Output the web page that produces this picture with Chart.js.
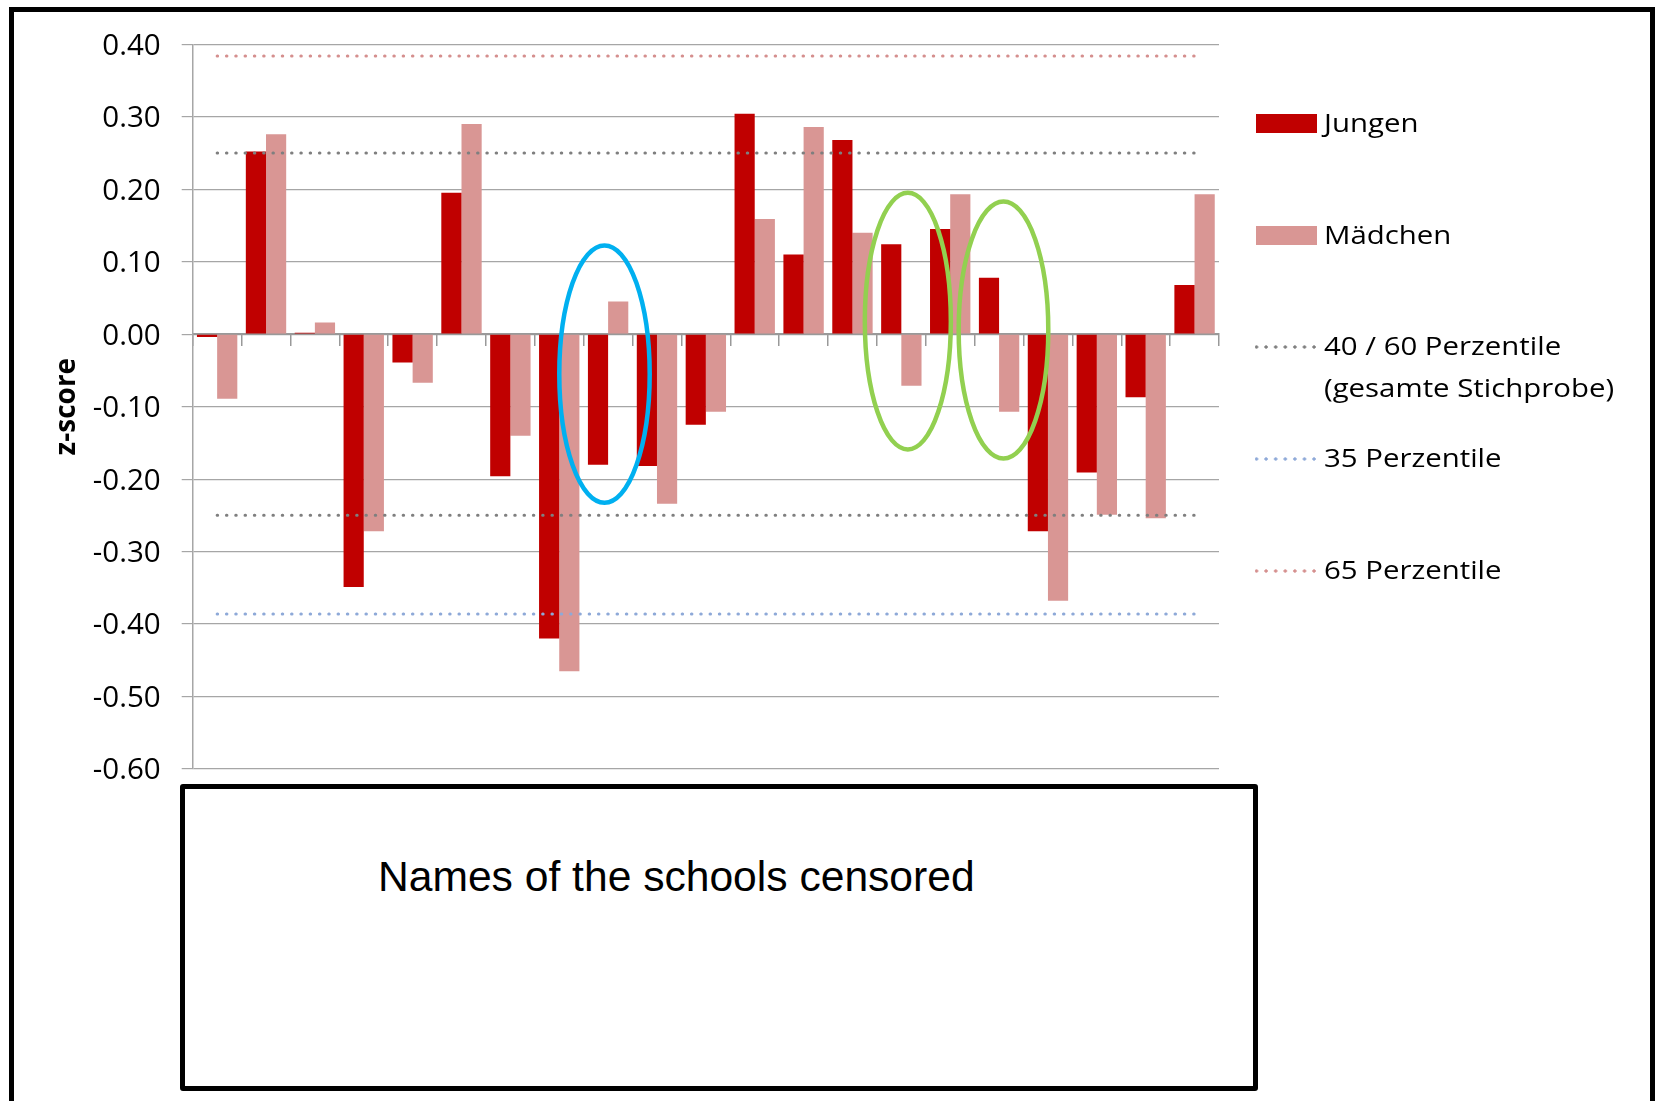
<!DOCTYPE html>
<html lang="de">
<head>
<meta charset="utf-8">
<title>z-score Jungen / Mädchen</title>
<script src="https://cdn.jsdelivr.net/npm/chart.js@4/dist/chart.umd.min.js"></script>
<style>
  html, body { margin: 0; padding: 0; background: #fff; }
  body { width: 1657px; height: 1101px; overflow: hidden; position: relative; }
  #chart { position: absolute; left: 0; top: 0; }
  .frame { position: absolute; box-sizing: border-box; border: 5px solid #000; }
  #outer { left: 9px; top: 7px; width: 1646px; height: 1130px; }
  #namesBox { left: 180px; top: 784px; width: 1078px; height: 307px; border-radius: 3px; background: #fff; }
  #namesText { position: absolute; left: 378px; top: 855px; font: 42.6px/42px "Liberation Sans", Arial, sans-serif; color: #000; white-space: nowrap; }
  .lg-item { position: absolute; left: 1255px; height: 0; }
  .lg-swatch { position: absolute; left: 1px; width: 61px; height: 19px; top: -10px; }
  .lg-line { position: absolute; left: 0; width: 61px; height: 4px; top: -2px; background-repeat: repeat-x; background-size: 9.6px 4px; background-position: -3.3px 0; }
  .lg-text { position: absolute; left: 69px; font: 26px/42px "Open Sans", sans-serif; color: #000; white-space: nowrap; transform: scaleX(1.13); transform-origin: 0 0; }
</style>
</head>
<body>
<canvas id="chart" width="1657" height="1101"></canvas>
<div id="outer" class="frame"></div>
<div id="namesBox" class="frame"></div>
<div id="namesText">Names of the schools censored</div>
<div id="legend"></div>
<script>
// ---------- data ----------
const categories = ['Schule 1','Schule 2','Schule 3','Schule 4','Schule 5','Schule 6','Schule 7',
  'Schule 8','Schule 9','Schule 10','Schule 11','Schule 12','Schule 13','Schule 14',
  'Schule 15','Schule 16','Schule 17','Schule 18','Schule 19','Schule 20','Schule 21'];
const jungen   = [-0.004, 0.252, 0.002, -0.349, -0.039, 0.195, -0.196, -0.420, -0.180, -0.182, -0.125,
                   0.304, 0.110, 0.268, 0.124, 0.145, 0.078, -0.272, -0.191, -0.087, 0.068];
const maedchen = [-0.089, 0.276, 0.016, -0.272, -0.067, 0.290, -0.140, -0.465, 0.045, -0.234, -0.107,
                   0.159, 0.286, 0.140, -0.071, 0.193, -0.107, -0.368, -0.249, -0.254, 0.193];
const perz60 = 0.25;
const perz40 = -0.25;
const perz35 = -0.386;
const perz65 = 0.384;
const yTickValues = [0.40, 0.30, 0.20, 0.10, 0.00, -0.10, -0.20, -0.30, -0.40, -0.50, -0.60];
const seriesNames = ['Jungen', 'Mädchen', ['40 / 60 Perzentile', '(gesamte Stichprobe)'], '35 Perzentile', '65 Perzentile'];
const yTitle = 'z-score';
// highlighted schools (category index, value range of the ellipse)
const highlights = [
  { cat: 8,  shift: -0.074, top: 0.1225, bottom: -0.2327, half: 0.925, color: '#00B0F0' },
  { cat: 14, shift: 0.133,  top: 0.195,  bottom: -0.159,  half: 0.88,  color: '#92D050' },
  { cat: 16, shift: 0.09,   top: 0.183,  bottom: -0.1716, half: 0.917, color: '#92D050' }
];

// ---------- styles ----------
const RED = '#C00000', PINK = '#D99694', GREY_DOT = '#7F7F7F', BLUE_DOT = '#8EA9D8', PINK_DOT = '#D58F8E';
const first = categories[0], last = categories[categories.length - 1];
const lineStyle = (color) => ({
  type: 'line', borderColor: color, backgroundColor: color, borderWidth: 3,
  borderDash: [0.5, 8.8], borderCapStyle: 'round', pointRadius: 0, fill: false, order: 0
});

const ellipsePlugin = {
  id: 'ellipses',
  afterDatasetsDraw(chart) {
    const { ctx, scales: { x, y } } = chart;
    const catW = x.getPixelForValue(1) - x.getPixelForValue(0);
    ctx.save();
    highlights.forEach(h => {
      const cx = x.getPixelForValue(h.cat) + h.shift * catW;
      const yt = y.getPixelForValue(h.top), yb = y.getPixelForValue(h.bottom);
      ctx.beginPath();
      ctx.ellipse(cx, (yt + yb) / 2, h.half * catW, (yb - yt) / 2, 0, 0, Math.PI * 2);
      ctx.lineWidth = 4.5;
      ctx.strokeStyle = h.color;
      ctx.stroke();
    });
    ctx.restore();
  }
};

const chart = new Chart(document.getElementById('chart'), {
  type: 'bar',
  data: {
    labels: categories,
    datasets: [
      { label: seriesNames[0], data: jungen, backgroundColor: RED, order: 1, legend: true },
      { label: seriesNames[1], data: maedchen, backgroundColor: PINK, order: 1, legend: true },
      Object.assign(lineStyle(GREY_DOT), { label: seriesNames[2], data: [{ x: first, y: perz60 }, { x: last, y: perz60 }], legend: true }),
      Object.assign(lineStyle(GREY_DOT), { label: seriesNames[2], data: [{ x: first, y: perz40 }, { x: last, y: perz40 }], legend: false }),
      Object.assign(lineStyle(BLUE_DOT), { label: seriesNames[3], data: [{ x: first, y: perz35 }, { x: last, y: perz35 }], legend: true }),
      Object.assign(lineStyle(PINK_DOT), { label: seriesNames[4], data: [{ x: first, y: perz65 }, { x: last, y: perz65 }], legend: true })
    ]
  },
  options: {
    responsive: false,
    animation: false,
    datasets: { bar: { categoryPercentage: 0.826, barPercentage: 1.0 } },
    layout: { padding: { top: 44.3, right: 438, bottom: 332, left: 0 } },
    plugins: { legend: { display: false }, tooltip: { enabled: false }, title: { display: false } },
    scales: {
      x: {
        position: { y: 0 },
        offset: true,
        grid: { offset: true, drawOnChartArea: false, drawTicks: true, tickLength: 11, color: '#999999', lineWidth: 1.5 },
        border: { display: true, color: '#999999', width: 2 },
        ticks: { autoSkip: false, callback: () => '', font: { size: 1 } }
      },
      y: {
        min: -0.6, max: 0.4,
        afterBuildTicks: (s) => { s.ticks = yTickValues.map(v => ({ value: v })); },
        afterFit: (s) => { s.width = 192.7; },
        grid: { color: '#A6A6A6', lineWidth: 1.2, tickLength: 11, drawTicks: true },
        border: { display: true, color: '#A6A6A6', width: 1.5 },
        ticks: {
          padding: 21, color: '#000', labelOffset: 2,
          font: { family: '"Open Sans", sans-serif', size: 29.5 },
          callback: (v) => (Math.abs(v) < 1e-9 ? 0 : v).toFixed(2)
        },
        title: {
          display: true, text: yTitle, color: '#000',
          font: { family: '"Open Sans", sans-serif', size: 28, weight: 'bold' },
          padding: { top: 50, bottom: 0 }
        }
      }
    }
  },
  plugins: [ellipsePlugin]
});

// ---------- legend (built from the chart's datasets) ----------
(function buildLegend() {
  const host = document.getElementById('legend');
  const firstY = 124, step = 111.7;
  const entries = chart.data.datasets.filter(d => d.legend);
  entries.forEach((d, i) => {
    const item = document.createElement('div');
    item.className = 'lg-item';
    item.style.top = (firstY + i * step) + 'px';
    const sw = document.createElement('div');
    if (d.type === 'line') {
      sw.className = 'lg-line';
      sw.style.backgroundImage = `radial-gradient(circle at center, ${d.borderColor} 1.4px, rgba(255,255,255,0) 1.9px)`;
    } else {
      sw.className = 'lg-swatch';
      sw.style.background = d.backgroundColor;
    }
    item.appendChild(sw);
    const lines = Array.isArray(d.label) ? d.label : [d.label];
    const tx = document.createElement('div');
    tx.className = 'lg-text';
    tx.style.top = '-23px';
    tx.innerHTML = lines.map(t => t.replace(/&/g, '&amp;').replace(/</g, '&lt;')).join('<br>');
    item.appendChild(tx);
    host.appendChild(item);
  });
})();
</script>
</body>
</html>
